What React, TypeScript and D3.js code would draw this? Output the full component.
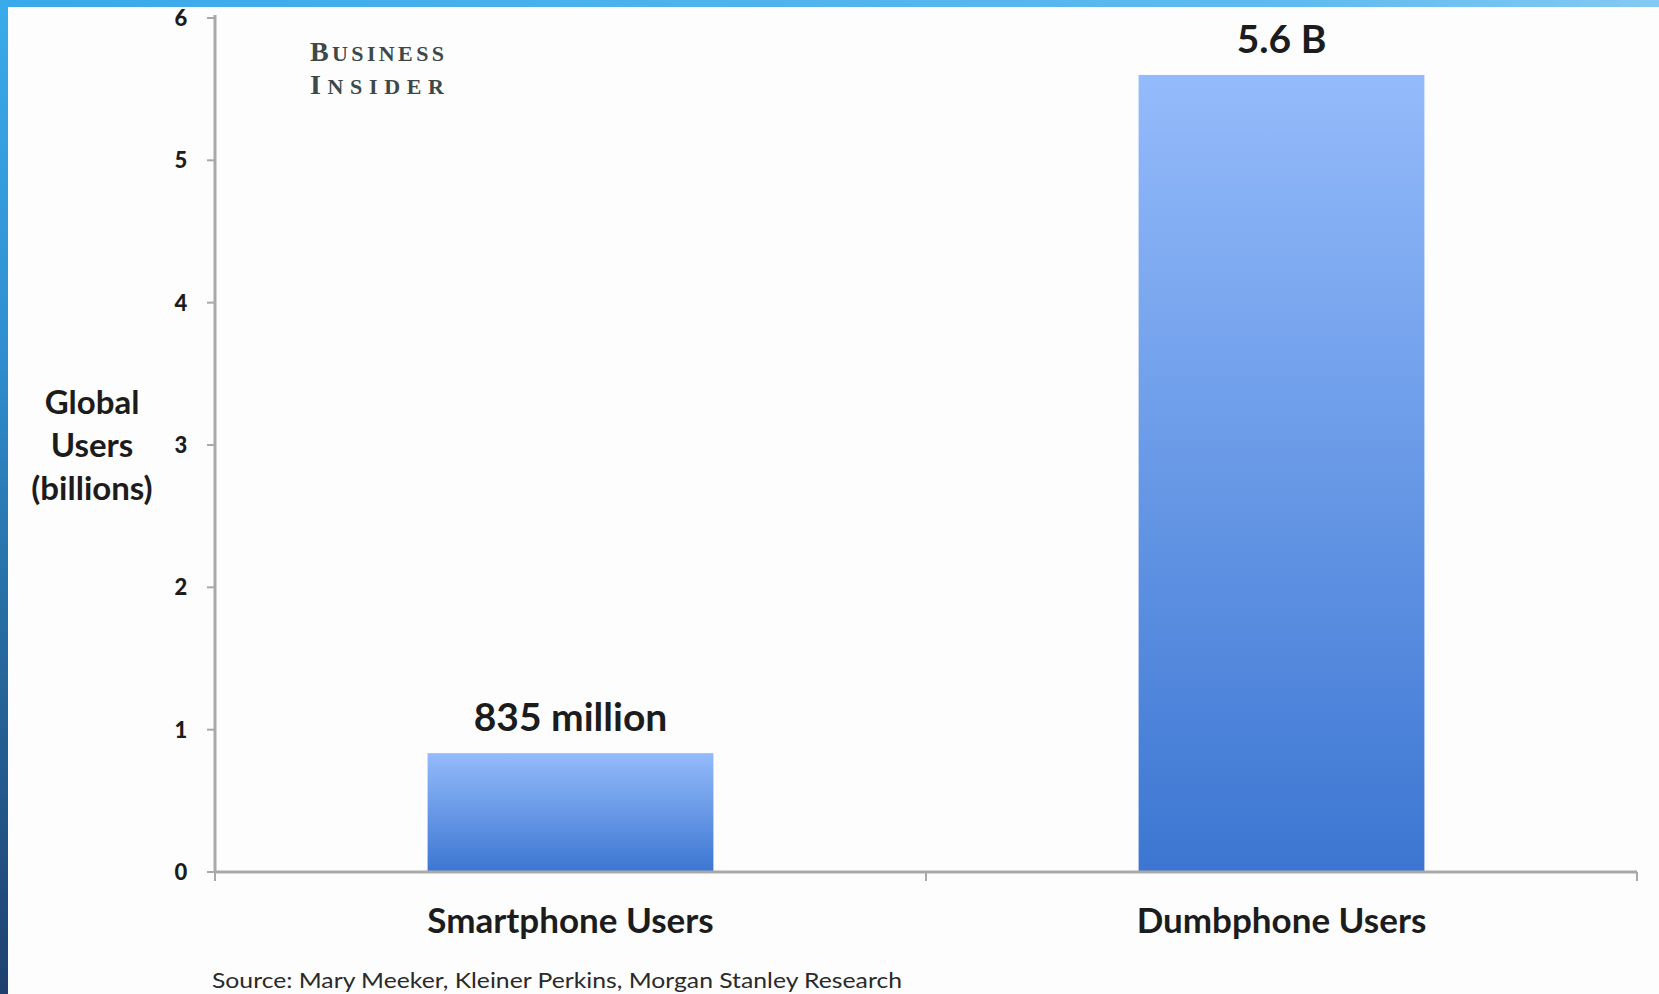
import React, { useEffect, useRef } from 'react';
import * as d3 from 'd3';

const categories: string[] = ['Smartphone Users', 'Dumbphone Users'];
const usersBillions: number[] = [0.835, 5.6];
const valueLabels: string[] = ['835 million', '5.6 B'];
const yTicks: number[] = [0, 1, 2, 3, 4, 5, 6];
const yTitleLines: string[] = ['Global', 'Users', '(billions)'];
const sourceText = 'Source: Mary Meeker, Kleiner Perkins, Morgan Stanley Research';

const App: React.FC = () => {
    const svgRef = useRef<SVGSVGElement>(null);

    useEffect(() => {
        document.body.style.margin = '0';
        if (!svgRef.current) return;

        const width = 1659;
        const height = 994;

        const svg = d3.select(svgRef.current);
        svg.selectAll('*').remove();
        svg.attr('width', width).attr('height', height);

        const defs = svg.append('defs');

        // frame gradients
        const topGrad = defs.append('linearGradient').attr('id', 'topBand')
            .attr('x1', '0').attr('x2', '1').attr('y1', '0').attr('y2', '0');
        topGrad.append('stop').attr('offset', '0').attr('stop-color', '#38a9ea');
        topGrad.append('stop').attr('offset', '0.78').attr('stop-color', '#5ebbef');
        topGrad.append('stop').attr('offset', '1').attr('stop-color', '#84c9f2');

        const leftGrad = defs.append('linearGradient').attr('id', 'leftBand')
            .attr('x1', '0').attr('x2', '0').attr('y1', '0').attr('y2', '1');
        leftGrad.append('stop').attr('offset', '0').attr('stop-color', '#3aabea');
        leftGrad.append('stop').attr('offset', '0.35').attr('stop-color', '#2f8fd0');
        leftGrad.append('stop').attr('offset', '0.6').attr('stop-color', '#276fa6');
        leftGrad.append('stop').attr('offset', '1').attr('stop-color', '#1e416e');

        const barGrad = defs.append('linearGradient').attr('id', 'barFill')
            .attr('x1', '0').attr('x2', '0').attr('y1', '0').attr('y2', '1');
        barGrad.append('stop').attr('offset', '0').attr('stop-color', '#94bbfb');
        barGrad.append('stop').attr('offset', '1').attr('stop-color', '#3c76d2');

        svg.append('rect').attr('width', width).attr('height', height).attr('fill', '#fdfdfd');

        // scales
        const xScale = d3.scaleBand<string>()
            .domain(categories)
            .range([215, 1637])
            .paddingInner(0.598)
            .paddingOuter(0.299);

        const yScale = d3.scaleLinear()
            .domain([0, 6])
            .range([872, 18]);

        const textColor = '#1c1c1c';
        const axisColor = '#a9a9a9';

        // bars
        svg.selectAll('.bar')
            .data(usersBillions)
            .enter().append('rect')
            .attr('class', 'bar')
            .attr('x', (_, i) => xScale(categories[i]) as number)
            .attr('y', d => yScale(d))
            .attr('width', xScale.bandwidth())
            .attr('height', d => yScale(0) - yScale(d))
            .attr('fill', 'url(#barFill)');

        // value labels
        svg.selectAll('.value-label')
            .data(usersBillions)
            .enter().append('text')
            .attr('class', 'value-label')
            .attr('x', (_, i) => (xScale(categories[i]) as number) + xScale.bandwidth() / 2)
            .attr('y', d => yScale(d) - 22)
            .attr('text-anchor', 'middle')
            .attr('font-family', 'Lato, "Open Sans", sans-serif')
            .attr('font-weight', 700)
            .attr('font-size', 39)
            .attr('fill', textColor)
            .text((_, i) => valueLabels[i]);

        // y axis
        const x0 = xScale.range()[0];
        svg.append('line')
            .attr('x1', x0).attr('x2', x0)
            .attr('y1', yScale(6) - 3).attr('y2', yScale(0))
            .attr('stroke', axisColor).attr('stroke-width', 3);

        const yAxisG = svg.append('g');
        yAxisG.selectAll('line')
            .data(yTicks)
            .enter().append('line')
            .attr('x1', x0 - 8).attr('x2', x0)
            .attr('y1', d => yScale(d)).attr('y2', d => yScale(d))
            .attr('stroke', axisColor).attr('stroke-width', 2);
        yAxisG.selectAll('text')
            .data(yTicks)
            .enter().append('text')
            .attr('x', 181)
            .attr('y', d => yScale(d) + 8)
            .attr('text-anchor', 'middle')
            .attr('font-family', 'Lato, "Open Sans", sans-serif')
            .attr('font-weight', 900)
            .attr('font-size', 22)
            .attr('fill', textColor)
            .text(d => d3.format('d')(d));

        // x axis
        const [r0, r1] = xScale.range();
        svg.append('line')
            .attr('x1', r0).attr('x2', r1)
            .attr('y1', yScale(0)).attr('y2', yScale(0))
            .attr('stroke', axisColor).attr('stroke-width', 3);

        const boundaries = d3.range(categories.length + 1).map(i => r0 + i * xScale.step());
        svg.selectAll('.x-tick')
            .data(boundaries)
            .enter().append('line')
            .attr('class', 'x-tick')
            .attr('x1', d => d).attr('x2', d => d)
            .attr('y1', yScale(0)).attr('y2', yScale(0) + 9)
            .attr('stroke', axisColor).attr('stroke-width', 2);

        svg.selectAll('.x-label')
            .data(categories)
            .enter().append('text')
            .attr('class', 'x-label')
            .attr('x', d => (xScale(d) as number) + xScale.bandwidth() / 2)
            .attr('y', 933)
            .attr('text-anchor', 'middle')
            .attr('font-family', 'Lato, "Open Sans", sans-serif')
            .attr('font-weight', 700)
            .attr('font-size', 35)
            .attr('fill', textColor)
            .text(d => d);

        // y axis title
        svg.append('g').selectAll('text')
            .data(yTitleLines)
            .enter().append('text')
            .attr('x', 92)
            .attr('y', (_, i) => 414 + i * 43)
            .attr('text-anchor', 'middle')
            .attr('font-family', 'Lato, "Open Sans", sans-serif')
            .attr('font-weight', 700)
            .attr('font-size', 33)
            .attr('fill', textColor)
            .text(d => d);

        // Business Insider mark
        const logo = svg.append('g')
            .attr('font-family', '"Liberation Serif", "DejaVu Serif", serif')
            .attr('font-weight', 700)
            .attr('fill', '#3d4848');
        const logoLines = [['B', 'USINESS', 61], ['I', 'NSIDER', 94]] as const;
        logoLines.forEach(([first, rest, y]) => {
            const t = logo.append('text')
                .attr('x', 310).attr('y', y)
                .attr('textLength', 134)
                .attr('lengthAdjust', 'spacing');
            t.append('tspan').attr('font-size', 28).text(first);
            t.append('tspan').attr('font-size', 22).text(rest);
        });

        // source
        svg.append('text')
            .attr('x', 212)
            .attr('y', 988)
            .attr('font-family', 'Lato, "Open Sans", sans-serif')
            .attr('font-size', 22)
            .attr('textLength', 690)
            .attr('lengthAdjust', 'spacingAndGlyphs')
            .attr('fill', '#2a2a2a')
            .text(sourceText);

        // frame
        svg.append('rect').attr('x', 0).attr('y', 0).attr('width', width).attr('height', 7).attr('fill', 'url(#topBand)');
        svg.append('rect').attr('x', 0).attr('y', 0).attr('width', 8).attr('height', height).attr('fill', 'url(#leftBand)');
    }, []);

    return <svg ref={svgRef} style={{ display: 'block' }}></svg>;
};

export default App;
